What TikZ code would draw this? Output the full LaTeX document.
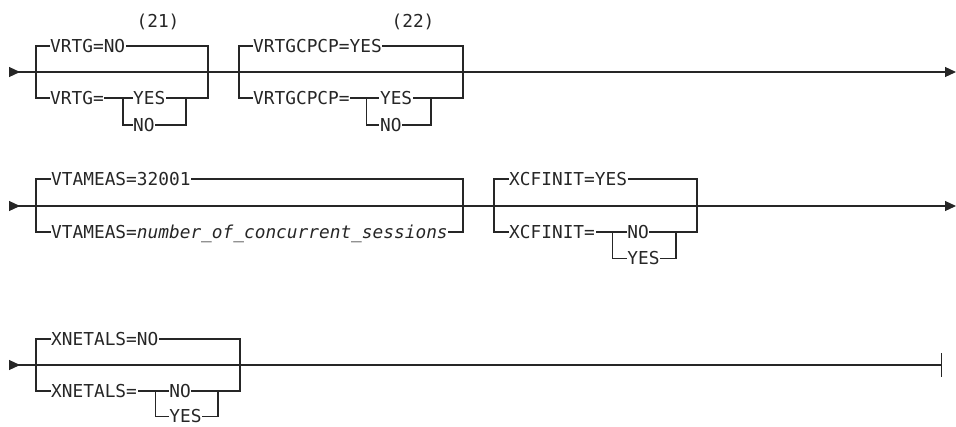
\documentclass[tikz,border=0pt]{standalone}
\usepackage{fontspec}
\setmainfont{DejaVu Sans Mono}[ItalicFont={DejaVu Sans Mono Oblique}]
\usepackage{tikz}
\usetikzlibrary{positioning, arrows.meta}
\definecolor{railink}{HTML}{262626}
\tikzset{
  kw/.style={anchor=west, inner xsep=1pt, inner ysep=0pt, text height=13pt, text depth=0pt, font=\fontsize{17.8pt}{20pt}\selectfont, text=railink},
  note/.style={kw, anchor=center},
  rail/.style={draw=railink, line width=1.2pt, line cap=rect},
  entry/.style={rail, line cap=butt, {Triangle[reversed, length=11pt, width=10pt]}-{Triangle[length=11pt, width=10pt]}},
  finish/.style={rail, line cap=butt, {Triangle[reversed, length=11pt, width=10pt]}-{Bar[width=24pt]}}
}

\begin{document}
\begin{tikzpicture}[x=1pt, y=-1pt]
    \useasboundingbox (0,0) rectangle (956,426);

    % --- Fila 1: VRTG y VRTGCPCP ---
    \coordinate (r1s) at (9,72);
    \coordinate (r1e) at (956,72);
    \draw [entry] (r1s) -- (r1e);

    \node (vrtgno) [kw] at (49,46) {VRTG=NO};
    \node (vrtgeq) [kw] at (49,98) {VRTG=};
    \node (vrtgyes) [kw, right=27pt of vrtgeq] {YES};
    \node (vrtgnoalt) [kw, below=13.5pt of vrtgyes.south west, anchor=north west] {NO};
    \node (n21) [note] at (158,21) {(21)};
    \coordinate (g1sub) at (186,98);
    \coordinate (g1r) at (208,98);

    \draw [rail] (vrtgno.west) -- ++(-13,0) |- (vrtgeq.west);
    \draw [rail] (vrtgno.east) -| (g1r) -- (vrtgyes.east);
    \draw [rail] (vrtgeq.east) -- (vrtgyes.west) ++(-9,0) |- (vrtgnoalt.west);
    \draw [rail] (vrtgnoalt.east) -| (g1sub);

    \node (cpyes) [kw] at (252,46) {VRTGCPCP=YES};
    \node (cpeq) [kw] at (252,98) {VRTGCPCP=};
    \node (cpyesalt) [kw, right=28pt of cpeq] {YES};
    \node (cpnoalt) [kw, below=13.5pt of cpyesalt.south west, anchor=north west] {NO};
    \node (n22) [note] at (413,21) {(22)};
    \coordinate (g2sub) at (431,98);
    \coordinate (g2r) at (463,98);

    \draw [rail] (cpyes.west) -- ++(-13,0) |- (cpeq.west);
    \draw [rail] (cpyes.east) -| (g2r) -- (cpyesalt.east);
    \draw [rail] (cpeq.east) -- (cpyesalt.west) ++(-12,0) |- (cpnoalt.west);
    \draw [rail] (cpnoalt.east) -| (g2sub);

    % --- Fila 2: VTAMEAS y XCFINIT ---
    \coordinate (r2s) at (9,206);
    \coordinate (r2e) at (956,206);
    \draw [entry] (r2s) -- (r2e);

    \node (vtdef) [kw] at (50,179) {VTAMEAS=32001};
    \node (vtnum) [kw] at (50,232) {VTAMEAS=\textit{number\_of\_concurrent\_sessions}};
    \coordinate (g3r) at (463,232);

    \draw [rail] (vtdef.west) -- ++(-14,0) |- (vtnum.west);
    \draw [rail] (vtdef.east) -| (g3r) -- (vtnum.east);

    \node (xcfyes) [kw] at (508,179) {XCFINIT=YES};
    \node (xcfeq) [kw] at (508,232) {XCFINIT=};
    \node (xcfno) [kw, right=30pt of xcfeq] {NO};
    \node (xcfyesalt) [kw, below=13pt of xcfno.south west, anchor=north west] {YES};
    \coordinate (g4sub) at (676,232);
    \coordinate (g4r) at (697,232);

    \draw [rail] (xcfyes.west) -- ++(-14,0) |- (xcfeq.west);
    \draw [rail] (xcfyes.east) -| (g4r) -- (xcfno.east);
    \draw [rail] (xcfeq.east) -- (xcfno.west) ++(-14,0) |- (xcfyesalt.west);
    \draw [rail] (xcfyesalt.east) -| (g4sub);

    % --- Fila 3: XNETALS y fin ---
    \coordinate (r3s) at (9,365);
    \coordinate (r3e) at (942,365);
    \draw [finish] (r3s) -- (r3e);

    \node (xnno) [kw] at (50,339) {XNETALS=NO};
    \node (xneq) [kw] at (50,391) {XNETALS=};
    \node (xnnoalt) [kw, right=30pt of xneq] {NO};
    \node (xnyes) [kw, below=12pt of xnnoalt.south west, anchor=north west] {YES};
    \coordinate (g5sub) at (218,391);
    \coordinate (g5r) at (240,391);

    \draw [rail] (xnno.west) -- ++(-14,0) |- (xneq.west);
    \draw [rail] (xnno.east) -| (g5r) -- (xnnoalt.east);
    \draw [rail] (xneq.east) -- (xnnoalt.west) ++(-13,0) |- (xnyes.west);
    \draw [rail] (xnyes.east) -| (g5sub);

\end{tikzpicture}
\end{document}
